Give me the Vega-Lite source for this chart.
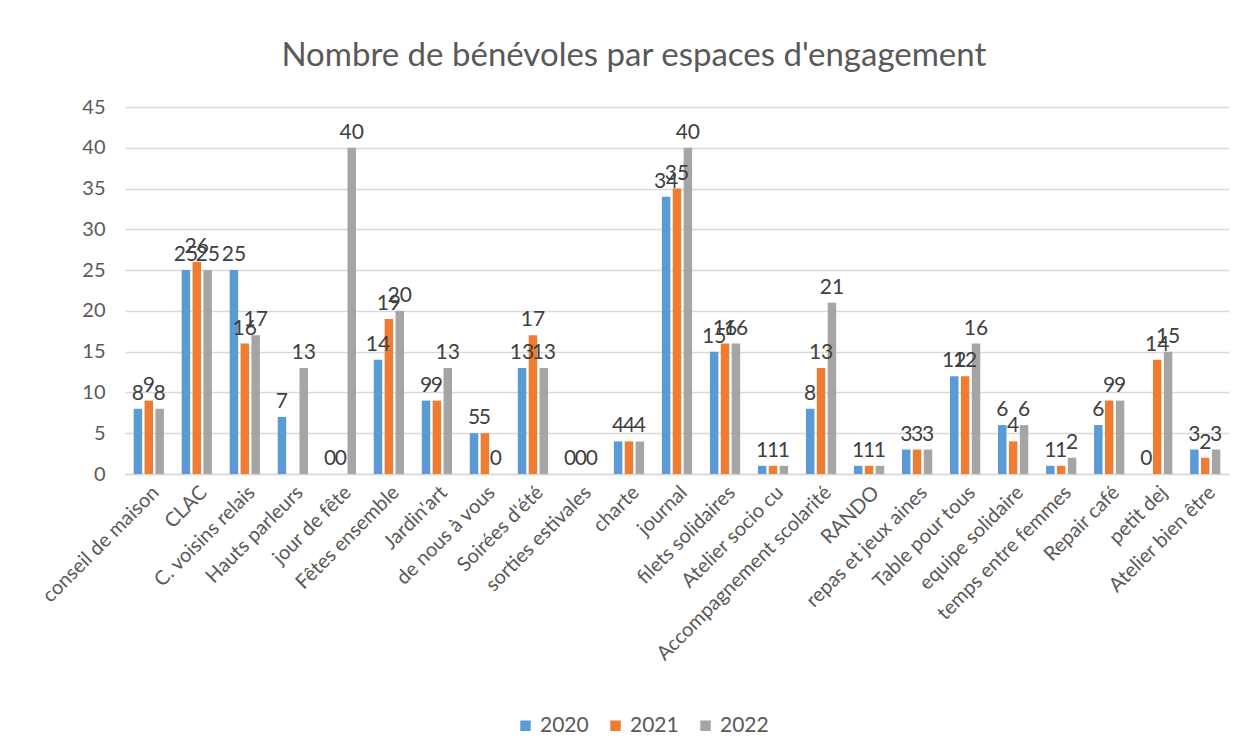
{
  "$schema": "https://vega.github.io/schema/vega-lite/v6.json",
  "width": 1104,
  "height": 367,
  "padding": {"left": 38, "top": 40, "right": 15, "bottom": 10},
  "background": "white",
  "title": {"text": "Nombre de bénévoles par espaces d'engagement", "fontSize": 33, "font": "Lato", "fontWeight": "normal", "color": "#595959", "offset": 24, "anchor": "middle", "frame": "bounds"},
  "config": {
    "font": "Lato",
    "view": {"stroke": null},
    "axis": {"labelFont": "Lato", "labelColor": "#595959", "titleColor": "#595959"}
  },
  "data": {"values": [
    {"cat": "conseil de maison", "year": "2020", "v": 8}, {"cat": "conseil de maison", "year": "2021", "v": 9}, {"cat": "conseil de maison", "year": "2022", "v": 8},
    {"cat": "CLAC", "year": "2020", "v": 25}, {"cat": "CLAC", "year": "2021", "v": 26}, {"cat": "CLAC", "year": "2022", "v": 25},
    {"cat": "C. voisins relais", "year": "2020", "v": 25}, {"cat": "C. voisins relais", "year": "2021", "v": 16}, {"cat": "C. voisins relais", "year": "2022", "v": 17},
    {"cat": "Hauts parleurs", "year": "2020", "v": 7}, {"cat": "Hauts parleurs", "year": "2021", "v": null}, {"cat": "Hauts parleurs", "year": "2022", "v": 13},
    {"cat": "jour de fête", "year": "2020", "v": 0}, {"cat": "jour de fête", "year": "2021", "v": 0}, {"cat": "jour de fête", "year": "2022", "v": 40},
    {"cat": "Fêtes ensemble", "year": "2020", "v": 14}, {"cat": "Fêtes ensemble", "year": "2021", "v": 19}, {"cat": "Fêtes ensemble", "year": "2022", "v": 20},
    {"cat": "Jardin'art", "year": "2020", "v": 9}, {"cat": "Jardin'art", "year": "2021", "v": 9}, {"cat": "Jardin'art", "year": "2022", "v": 13},
    {"cat": "de nous à vous", "year": "2020", "v": 5}, {"cat": "de nous à vous", "year": "2021", "v": 5}, {"cat": "de nous à vous", "year": "2022", "v": 0},
    {"cat": "Soirées d'été", "year": "2020", "v": 13}, {"cat": "Soirées d'été", "year": "2021", "v": 17}, {"cat": "Soirées d'été", "year": "2022", "v": 13},
    {"cat": "sorties estivales", "year": "2020", "v": 0}, {"cat": "sorties estivales", "year": "2021", "v": 0}, {"cat": "sorties estivales", "year": "2022", "v": 0},
    {"cat": "charte", "year": "2020", "v": 4}, {"cat": "charte", "year": "2021", "v": 4}, {"cat": "charte", "year": "2022", "v": 4},
    {"cat": "journal", "year": "2020", "v": 34}, {"cat": "journal", "year": "2021", "v": 35}, {"cat": "journal", "year": "2022", "v": 40},
    {"cat": "filets solidaires", "year": "2020", "v": 15}, {"cat": "filets solidaires", "year": "2021", "v": 16}, {"cat": "filets solidaires", "year": "2022", "v": 16},
    {"cat": "Atelier socio cu", "year": "2020", "v": 1}, {"cat": "Atelier socio cu", "year": "2021", "v": 1}, {"cat": "Atelier socio cu", "year": "2022", "v": 1},
    {"cat": "Accompagnement scolarité", "year": "2020", "v": 8}, {"cat": "Accompagnement scolarité", "year": "2021", "v": 13}, {"cat": "Accompagnement scolarité", "year": "2022", "v": 21},
    {"cat": "RANDO", "year": "2020", "v": 1}, {"cat": "RANDO", "year": "2021", "v": 1}, {"cat": "RANDO", "year": "2022", "v": 1},
    {"cat": "repas et jeux aines", "year": "2020", "v": 3}, {"cat": "repas et jeux aines", "year": "2021", "v": 3}, {"cat": "repas et jeux aines", "year": "2022", "v": 3},
    {"cat": "Table pour tous", "year": "2020", "v": 12}, {"cat": "Table pour tous", "year": "2021", "v": 12}, {"cat": "Table pour tous", "year": "2022", "v": 16},
    {"cat": "equipe solidaire", "year": "2020", "v": 6}, {"cat": "equipe solidaire", "year": "2021", "v": 4}, {"cat": "equipe solidaire", "year": "2022", "v": 6},
    {"cat": "temps entre femmes", "year": "2020", "v": 1}, {"cat": "temps entre femmes", "year": "2021", "v": 1}, {"cat": "temps entre femmes", "year": "2022", "v": 2},
    {"cat": "Repair café", "year": "2020", "v": 6}, {"cat": "Repair café", "year": "2021", "v": 9}, {"cat": "Repair café", "year": "2022", "v": 9},
    {"cat": "petit dej", "year": "2020", "v": 0}, {"cat": "petit dej", "year": "2021", "v": 14}, {"cat": "petit dej", "year": "2022", "v": 15},
    {"cat": "Atelier bien être", "year": "2020", "v": 3}, {"cat": "Atelier bien être", "year": "2021", "v": 2}, {"cat": "Atelier bien être", "year": "2022", "v": 3}
  ]},
  "encoding": {
    "x": {"field": "cat", "type": "nominal", "sort": null,
      "scale": {"paddingInner": 0.37, "paddingOuter": 0.18},
      "axis": {"title": null, "labelAngle": -45, "labelFontSize": 20, "labelPadding": 8, "labelLimit": 0, "ticks": false, "domainColor": "#d9d9d9", "domainWidth": 1.5, "grid": false}},
    "xOffset": {"field": "year", "type": "nominal", "scale": {"paddingInner": 0.22}},
    "y": {"field": "v", "type": "quantitative",
      "scale": {"domain": [0, 45]},
      "axis": {"title": null, "values": [0, 5, 10, 15, 20, 25, 30, 35, 40, 45], "labelFontSize": 20, "labelPadding": 20, "ticks": false, "domain": false, "gridColor": "#d9d9d9", "gridWidth": 1.5}}
  },
  "layer": [
    {
      "mark": {"type": "bar"},
      "encoding": {
        "color": {"field": "year", "type": "nominal",
          "scale": {"domain": ["2020", "2021", "2022"], "range": ["#5B9BD5", "#ED7D31", "#A5A5A5"]},
          "legend": {"title": null, "orient": "none", "legendX": 390, "legendY": 608, "direction": "horizontal", "symbolType": "square", "symbolSize": 110, "labelFontSize": 21, "labelColor": "#595959", "columnPadding": 16, "labelOffset": 4, "symbolStrokeWidth": 0}}
      }
    },
    {
      "mark": {"type": "text", "baseline": "bottom", "dy": -5, "fontSize": 21, "color": "#404040", "font": "Lato"},
      "encoding": {"text": {"field": "v", "type": "quantitative"}}
    }
  ]
}
